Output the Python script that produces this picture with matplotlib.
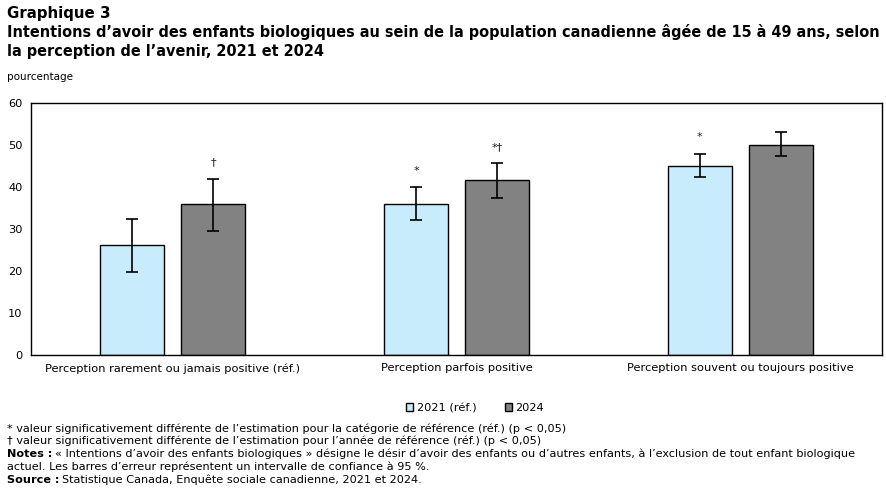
import numpy as np
from matplotlib import pyplot as plt

categories = ['Perception rarement ou jamais positive (réf.)',
              'Perception parfois positive',
              'Perception souvent ou toujours positive']
series = ['2021 (réf.)', '2024']
val_2021 = [26.2, 35.9, 44.9]
low_2021 = [19.7, 32.1, 42.3]
high_2021 = [32.5, 39.9, 47.8]
val_2024 = [35.9, 41.6, 49.9]
low_2024 = [29.5, 37.3, 47.3]
high_2024 = [41.8, 45.6, 53.0]
marks_2021 = ['', '*', '*']
marks_2024 = ['†', '*†', '']

plt.rcParams['font.family'] = ['DejaVu Sans']
narrow = ['Liberation Sans Narrow', 'DejaVu Sans']

fig = plt.figure(figsize=(8.87, 4.92), dpi=100)
ax = fig.add_axes([31 / 887, 1 - 355 / 492, 851 / 887, 252 / 492])

x = np.arange(len(categories))
w = 0.225
off = 0.1426

def draw(xs, vals, lo, hi, color, label, marks):
  vals = np.array(vals)
  err = [vals - np.array(lo), np.array(hi) - vals]
  ax.bar(xs, vals, w, color=color, edgecolor='black', linewidth=1, label=label, zorder=2)
  ax.errorbar(xs, vals, yerr=err, fmt='none', ecolor='black', elinewidth=1.2,
              capsize=4.5, capthick=1.2, zorder=3)
  for xi, h, m in zip(xs, hi, marks):
    if m:
      ax.text(xi, h + 2.8, m, ha='center', va='bottom', fontsize=8, color='#222222')

draw(x - off, val_2021, low_2021, high_2021, '#c8ecfc', series[0], marks_2021)
draw(x + off, val_2024, low_2024, high_2024, '#828282', series[1], marks_2024)

ax.set_xlim(-0.5, 2.5)
ax.set_ylim(0, 60)
ax.set_yticks(range(0, 61, 10))
ax.set_xticks(x)
ax.set_xticklabels(categories)
ax.tick_params(axis='both', labelsize=8.2, length=0, pad=6)
for s in ax.spines.values():
  s.set_linewidth(1)

ax.legend(loc='upper center', bbox_to_anchor=(444 / 851, -0.15), ncol=2,
          frameon=False, fontsize=8.2, handlelength=0.6, handleheight=0.6,
          handletextpad=0.3, columnspacing=2.5)

fig.canvas.draw()
r = fig.canvas.get_renderer()

# fit the title to the reference width
title = ('Intentions d’avoir des enfants biologiques au sein de la population canadienne âgée de 15 à 49 ans, selon\n'
         'la perception de l’avenir, 2021 et 2024')
fig.text(7 / 887, 1 - 6 / 492, 'Graphique 3', fontsize=10.8, fontweight='bold', va='top', family=narrow)
t = fig.text(7 / 887, 1 - 24 / 492, title, fontsize=12, fontweight='bold', va='top',
             linespacing=1.3, family=narrow)
bb = t.get_window_extent(renderer=r)
t.set_fontsize(12 * 871 / bb.width)
fig.text(7 / 887, 1 - 77 / 492, 'pourcentage', fontsize=7.5, va='center', family=narrow)

foot = 8.1
fig.text(7 / 887, 1 - 429 / 492,
         '* valeur significativement différente de l’estimation pour la catégorie de référence (réf.) (p < 0,05)',
         fontsize=foot, va='center', family=narrow)
fig.text(7 / 887, 1 - 441 / 492,
         '† valeur significativement différente de l’estimation pour l’année de référence (réf.) (p < 0,05)',
         fontsize=foot, va='center', family=narrow)

def bold_line(y, head, rest):
  t = fig.text(7 / 887, 1 - y / 492, head, fontsize=foot, fontweight='bold', va='center', family=narrow)
  bb = t.get_window_extent(renderer=r)
  fig.text((bb.x1 + 3) / 887, 1 - y / 492, rest, fontsize=foot, va='center', family=narrow)

bold_line(454, 'Notes :', '« Intentions d’avoir des enfants biologiques » désigne le désir d’avoir des enfants ou d’autres enfants, à l’exclusion de tout enfant biologique')
fig.text(7 / 887, 1 - 467 / 492, 'actuel. Les barres d’erreur représentent un intervalle de confiance à 95 %.',
         fontsize=foot, va='center', family=narrow)
bold_line(480, 'Source :', 'Statistique Canada, Enquête sociale canadienne, 2021 et 2024.')

fig.savefig('out.png', dpi=100)
